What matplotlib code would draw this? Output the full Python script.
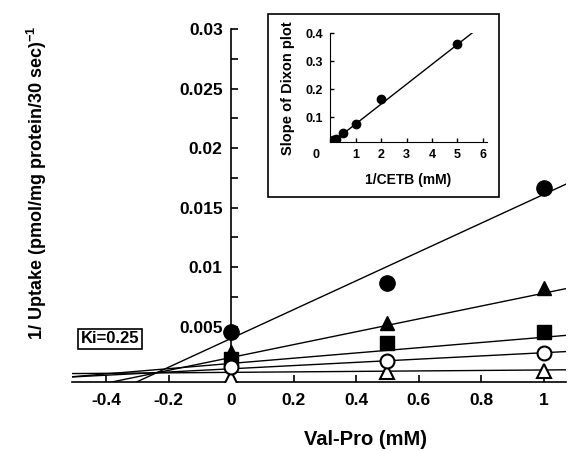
import numpy as np
import matplotlib
matplotlib.use("Agg")
import matplotlib.pyplot as plt
from matplotlib.patches import Rectangle
from matplotlib.ticker import MultipleLocator
import matplotlib.transforms as mtransforms

plt.rcParams['font.family'] = ['Liberation Sans', 'DejaVu Sans']
plt.rcParams['font.weight'] = 'bold'
plt.rcParams['mathtext.fontset'] = 'custom'
plt.rcParams['mathtext.rm'] = 'Liberation Sans:bold'
plt.rcParams['mathtext.bf'] = 'Liberation Sans:bold'

# Val-Pro concentrations (mM)
val_pro = [0, 0.5, 1]

# 1/uptake for each CETB concentration
filled_circle = [0.0045, 0.0087, 0.0166]
filled_triangle = [0.0029, 0.0053, 0.0082]
filled_square = [0.0023, 0.0036, 0.0045]
open_circle = [0.0016, 0.0021, 0.0028]
open_triangle = [0.0007, 0.0012, 0.0013]

# fitted Dixon lines (intercept at 0, slope)
line_intercepts = [0.0040, 0.0024, 0.0019, 0.00145, 0.00115]
line_slopes = [0.0121, 0.0054, 0.0022, 0.00135, 0.0002]

# inset: slope of Dixon plot vs 1/CETB
inv_cetb = [0.1, 0.25, 0.5, 1, 2, 5]
dixon_slope = [0.02, 0.022, 0.045, 0.075, 0.165, 0.36]
inset_fit = (0.0711, 0.004)  # slope, intercept

fig = plt.figure(figsize=(5.69, 4.51), dpi=100)
ax = fig.add_axes([0.1265, 0.153, 0.8685, 0.7827])

xs = np.array([-0.6, 1.2])
for b, m in zip(line_intercepts, line_slopes):
    ax.plot(xs, b + m * xs, color='black', lw=1.0, zorder=2)

ax.plot(val_pro, filled_circle, 'o', color='black', ms=11, zorder=3)
ax.plot(val_pro, filled_triangle, '^', color='black', ms=10.5, zorder=3)
ax.plot(val_pro, filled_square, 's', color='black', ms=9.5, zorder=3)
ax.plot(val_pro, open_triangle, '^', mfc='white', mec='black', mew=1.5, ms=10, zorder=4)
ax.plot(val_pro, open_circle, 'o', mfc='white', mec='black', mew=1.5, ms=10, zorder=5)

ax.set_xlim(-0.509, 1.072)
ax.set_ylim(0.00034, 0.03)
ax.spines['left'].set_position(('data', 0))
ax.spines['top'].set_visible(False)
ax.spines['right'].set_visible(False)
ax.spines['left'].set_linewidth(1.2)
ax.spines['bottom'].set_linewidth(1.2)

ax.set_xticks([-0.4, -0.2, 0, 0.2, 0.4, 0.6, 0.8, 1])
ax.set_xticklabels(['-0.4', '-0.2', '0', '0.2', '0.4', '0.6', '0.8', '1'])
ax.set_yticks([0.005, 0.01, 0.015, 0.02, 0.025, 0.03])
ax.set_yticklabels(['0.005', '0.01', '0.015', '0.02', '0.025', '0.03'])
ax.yaxis.set_minor_locator(MultipleLocator(0.0025))
ax.tick_params(axis='x', direction='in', length=5, width=1.2, pad=8, labelsize=12.5)
ax.tick_params(axis='y', which='both', direction='in', length=5, width=1.2, pad=6, labelsize=12.5)
for lab in ax.get_xticklabels() + ax.get_yticklabels():
    lab.set_fontweight('bold')

ax.set_xlabel('Val-Pro (mM)', fontsize=14.5, fontweight='bold', va='center')
ax.xaxis.set_label_coords(0.593, -0.164)
ax.set_ylabel(r'1/ Uptake (pmol/mg protein/30 sec)$^{\mathbf{-1}}$',
              fontsize=13, fontweight='bold', va='center')
ax.yaxis.set_label_coords(-0.071, 0.564)

ax.text(0.077, 0.122, 'Ki=0.25', transform=ax.transAxes, ha='center', va='center',
        fontsize=12, fontweight='bold',
        bbox=dict(boxstyle='square,pad=0.15', fc='white', ec='black', lw=1.2))

# inset frame
frame = Rectangle((0.471, 0.563), 0.406, 0.406, transform=fig.transFigure,
                  fc='white', ec='black', lw=1.2, zorder=0.5)
fig.add_artist(frame)

axi = fig.add_axes([0.58, 0.685, 0.276, 0.2417], zorder=1)
axi.patch.set_alpha(0)
fx = np.array([0, 6])
axi.plot(fx, inset_fit[1] + inset_fit[0] * fx, color='black', lw=1.0)
axi.plot(inv_cetb, dixon_slope, 'o', color='black', ms=6)
axi.set_xlim(0, 6.16)
axi.set_ylim(0.011, 0.4)
axi.spines['top'].set_visible(False)
axi.spines['right'].set_visible(False)
axi.set_xticks([0, 1, 2, 3, 4, 5, 6])
axi.set_yticks([0.1, 0.2, 0.3, 0.4])
axi.set_yticklabels(['0.1', '0.2', '0.3', '0.4'])
axi.tick_params(direction='in', length=3, width=1, labelsize=9, pad=5)
for lab in axi.get_xticklabels() + axi.get_yticklabels():
    lab.set_fontweight('bold')
# the "0" sits at the corner, left of the axis
shift = mtransforms.ScaledTranslation(-14 / 100, 0, fig.dpi_scale_trans)
first = axi.get_xticklabels()[0]
first.set_transform(first.get_transform() + shift)
axi.set_xlabel('1/CETB (mM)', fontsize=10, fontweight='bold', va='center')
axi.xaxis.set_label_coords(0.5, -0.35)
axi.set_ylabel('Slope of Dixon plot', fontsize=10.5, fontweight='bold', va='center')
axi.yaxis.set_label_coords(-0.267, 0.495)

fig.savefig('out.png', dpi=100)
